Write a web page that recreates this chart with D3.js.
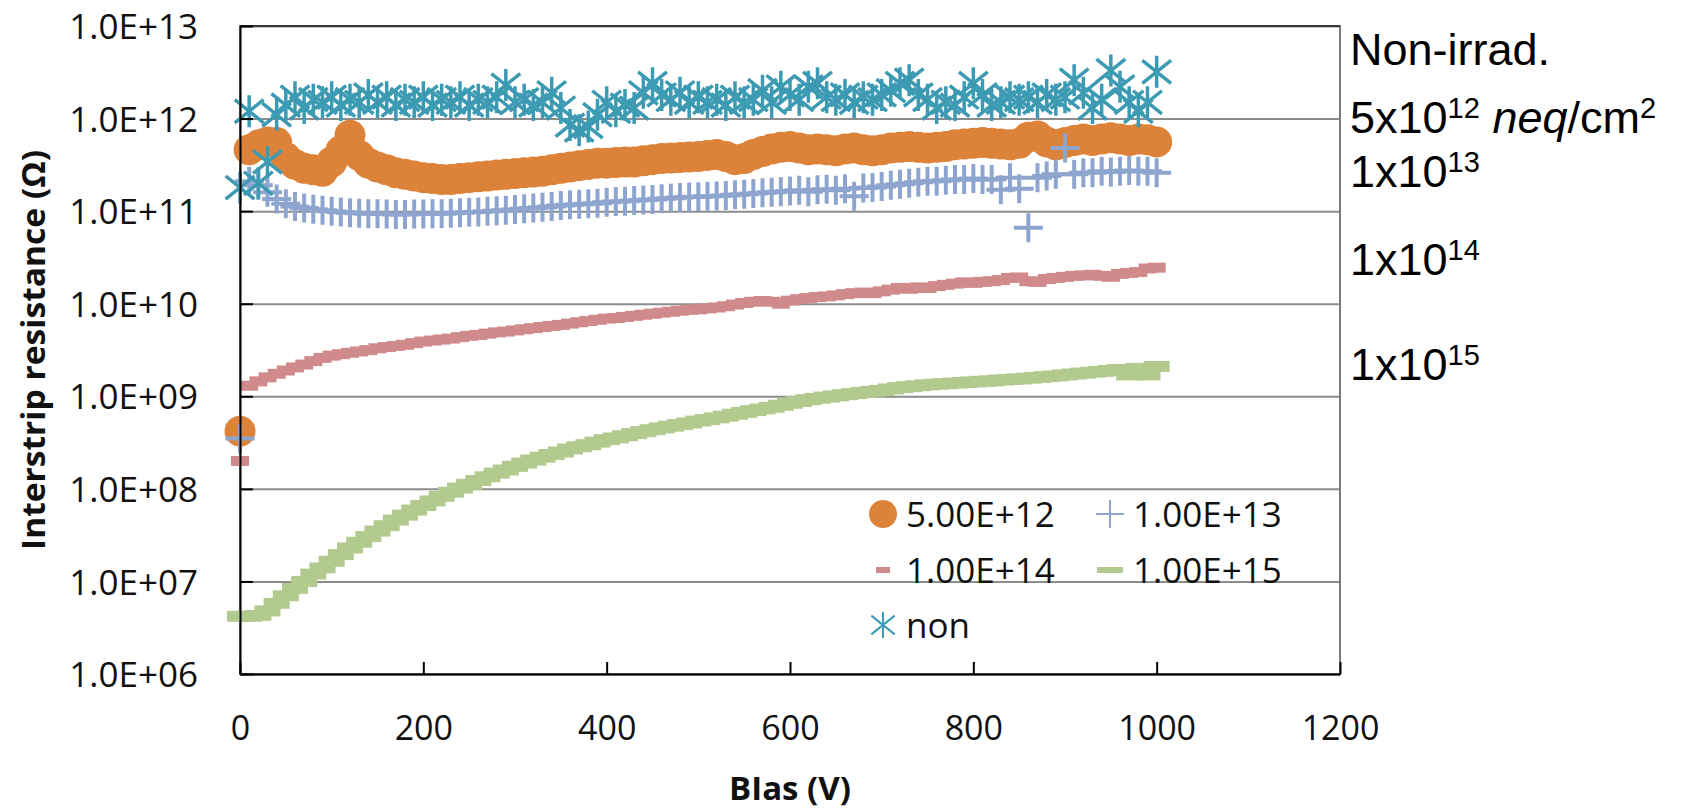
<!DOCTYPE html>
<html>
<head>
<meta charset="utf-8">
<script src="https://cdn.jsdelivr.net/npm/d3@7"></script>
<style>
  body { margin: 0; background: #fff; }
  svg { display: block; }
</style>
</head>
<body>
<svg id="chart" width="1691" height="811"></svg>
<script>
// Bias sweep (V)
const bias = [0,10,20,30,40,50,60,70,80,90,100,110,120,130,140,150,160,170,180,190,200,
  210,220,230,240,250,260,270,280,290,300,310,320,330,340,350,360,370,380,390,400,
  410,420,430,440,450,460,470,480,490,500,510,520,530,540,550,560,570,580,590,600,
  610,620,630,640,650,660,670,680,690,700,710,720,730,740,750,760,770,780,790,800,
  810,820,830,840,850,860,870,880,890,900,910,920,930,940,950,960,970,980,990,1000];

// Interstrip resistance (Ohm) per fluence
const r5e12 = [4.2e8,4.6e11,5.2e11,5.6e11,5.5e11,3.8e11,3.2e11,2.9e11,2.8e11,2.7e11,3.4e11,
  4.5e11,6.6e11,4.0e11,3.3e11,3.0e11,2.8e11,2.6e11,2.5e11,2.4e11,2.3e11,
  2.25e11,2.2e11,2.2e11,2.25e11,2.3e11,2.35e11,2.4e11,2.45e11,2.5e11,2.55e11,
  2.6e11,2.65e11,2.7e11,2.8e11,2.9e11,3.0e11,3.1e11,3.2e11,3.3e11,3.3e11,
  3.35e11,3.4e11,3.4e11,3.5e11,3.6e11,3.7e11,3.75e11,3.8e11,3.85e11,3.9e11,
  4.0e11,4.1e11,3.9e11,3.6e11,3.7e11,4.1e11,4.4e11,4.7e11,4.9e11,5.0e11,
  4.8e11,4.6e11,4.7e11,4.6e11,4.5e11,4.7e11,4.8e11,4.6e11,4.5e11,4.6e11,
  4.8e11,4.9e11,5.0e11,4.9e11,4.8e11,4.9e11,5.0e11,5.2e11,5.3e11,5.4e11,
  5.5e11,5.4e11,5.3e11,5.2e11,5.4e11,6.3e11,6.5e11,5.6e11,5.2e11,5.5e11,
  5.8e11,6.0e11,5.8e11,6.0e11,6.2e11,6.0e11,5.8e11,6.0e11,5.9e11,5.6e11];

const r1e13 = [3.5e8,2.1e11,1.9e11,1.6e11,1.35e11,1.2e11,1.12e11,1.08e11,1.05e11,1.02e11,1.0e11,
  0.98e11,0.96e11,0.95e11,0.94e11,0.94e11,0.93e11,0.92e11,0.92e11,0.93e11,0.93e11,
  0.94e11,0.94e11,0.95e11,0.96e11,0.97e11,0.98e11,1.0e11,1.01e11,1.02e11,1.04e11,
  1.06e11,1.08e11,1.1e11,1.12e11,1.15e11,1.17e11,1.19e11,1.2e11,1.22e11,1.25e11,
  1.27e11,1.28e11,1.3e11,1.32e11,1.34e11,1.36e11,1.38e11,1.4e11,1.42e11,1.43e11,
  1.45e11,1.46e11,1.48e11,1.5e11,1.52e11,1.55e11,1.58e11,1.6e11,1.62e11,1.65e11,
  1.68e11,1.62e11,1.7e11,1.72e11,1.68e11,1.75e11,1.45e11,1.78e11,1.8e11,1.85e11,
  1.9e11,1.95e11,2.0e11,2.05e11,2.1e11,2.1e11,2.15e11,2.2e11,2.2e11,2.25e11,
  2.2e11,2.2e11,1.7e11,2.3e11,1.75e11,6.6e10,2.3e11,2.4e11,2.5e11,4.8e11,
  2.5e11,2.6e11,2.6e11,2.7e11,2.65e11,2.7e11,2.75e11,2.7e11,2.7e11,2.6e11];

const r1e14 = [2.0e8,1.3e9,1.45e9,1.6e9,1.75e9,1.9e9,2.05e9,2.2e9,2.4e9,2.6e9,2.75e9,
  2.85e9,2.95e9,3.05e9,3.15e9,3.3e9,3.4e9,3.5e9,3.6e9,3.75e9,3.9e9,
  4.0e9,4.1e9,4.2e9,4.35e9,4.5e9,4.6e9,4.75e9,4.9e9,5.0e9,5.15e9,
  5.3e9,5.45e9,5.6e9,5.75e9,5.9e9,6.1e9,6.3e9,6.5e9,6.7e9,6.9e9,
  7.0e9,7.2e9,7.4e9,7.6e9,7.8e9,8.0e9,8.2e9,8.4e9,8.6e9,8.7e9,
  8.9e9,9.1e9,9.4e9,9.8e9,1.02e10,1.05e10,1.07e10,1.05e10,1.0e10,1.08e10,
  1.12e10,1.15e10,1.18e10,1.2e10,1.23e10,1.27e10,1.3e10,1.32e10,1.3e10,1.36e10,
  1.42e10,1.48e10,1.45e10,1.5e10,1.48e10,1.55e10,1.6e10,1.65e10,1.7e10,1.68e10,
  1.72e10,1.75e10,1.8e10,1.9e10,1.92e10,1.75e10,1.72e10,1.85e10,1.9e10,1.95e10,
  2.0e10,2.02e10,2.05e10,2.0e10,1.95e10,2.1e10,2.15e10,2.2e10,2.4e10,2.45e10];

const r1e15 = [4.2e6,4.2e6,4.3e6,4.8e6,5.8e6,7.0e6,8.4e6,1.0e7,1.2e7,1.4e7,1.65e7,
  1.95e7,2.3e7,2.65e7,3.05e7,3.5e7,4.0e7,4.6e7,5.2e7,5.9e7,6.6e7,
  7.4e7,8.3e7,9.2e7,1.02e8,1.12e8,1.23e8,1.35e8,1.48e8,1.6e8,1.75e8,
  1.9e8,2.05e8,2.2e8,2.35e8,2.5e8,2.7e8,2.85e8,3.0e8,3.2e8,3.4e8,
  3.55e8,3.75e8,3.95e8,4.15e8,4.35e8,4.55e8,4.75e8,4.95e8,5.15e8,5.4e8,
  5.6e8,5.85e8,6.1e8,6.4e8,6.7e8,7.0e8,7.3e8,7.6e8,8.0e8,8.4e8,
  8.8e8,9.2e8,9.5e8,9.8e8,1.01e9,1.04e9,1.07e9,1.1e9,1.13e9,1.16e9,
  1.2e9,1.24e9,1.27e9,1.3e9,1.33e9,1.35e9,1.37e9,1.39e9,1.41e9,1.43e9,
  1.45e9,1.47e9,1.5e9,1.52e9,1.54e9,1.57e9,1.6e9,1.63e9,1.66e9,1.7e9,
  1.74e9,1.78e9,1.82e9,1.86e9,1.9e9,1.95e9,1.7e9,2.0e9,1.7e9,2.1e9];

const rNon = [1.8e11,1.2e12,2.0e11,3.4e11,1.1e12,1.4e12,1.7e12,1.3e12,1.6e12,1.5e12,1.7e12,
  1.4e12,1.6e12,1.5e12,1.8e12,1.5e12,1.7e12,1.4e12,1.6e12,1.5e12,1.7e12,
  1.4e12,1.6e12,1.5e12,1.7e12,1.4e12,1.6e12,1.5e12,1.7e12,2.3e12,1.5e12,
  1.6e12,1.4e12,1.5e12,1.9e12,1.3e12,8.5e11,7.5e11,8.2e11,1.1e12,1.5e12,
  1.2e12,1.4e12,1.3e12,1.9e12,2.4e12,1.8e12,1.6e12,1.9e12,1.5e12,1.7e12,
  1.5e12,1.6e12,1.4e12,1.7e12,1.5e12,1.6e12,2.0e12,1.5e12,2.2e12,1.8e12,
  1.6e12,2.2e12,2.4e12,1.7e12,1.6e12,1.8e12,1.5e12,1.7e12,1.6e12,1.8e12,
  2.0e12,2.4e12,2.6e12,1.8e12,1.6e12,1.3e12,1.5e12,1.4e12,1.7e12,2.4e12,
  1.8e12,1.4e12,1.5e12,1.7e12,1.6e12,1.7e12,1.5e12,1.8e12,1.6e12,1.7e12,
  2.6e12,1.9e12,1.3e12,1.6e12,3.3e12,2.2e12,1.5e12,1.2e12,1.5e12,3.2e12];

// Axis ticks and labels
const yTicks = [1e6,1e7,1e8,1e9,1e10,1e11,1e12,1e13];
const yTickLabels = ["1.0E+06","1.0E+07","1.0E+08","1.0E+09","1.0E+10","1.0E+11","1.0E+12","1.0E+13"];
const xTicks = [0,200,400,600,800,1000,1200];
const seriesNames = ["5.00E+12","1.00E+13","1.00E+14","1.00E+15","non"];

const svg = d3.select("#chart");
const plotL = 240, plotR = 1340, plotT = 26, plotB = 674;

const x = d3.scaleLinear().domain([0, 1200]).range([plotL, plotR]);
const y = d3.scaleLog().domain([1e6, 1e13]).range([plotB, plotT]);

const font = "'Open Sans', 'DejaVu Sans', sans-serif";

// horizontal gridlines
svg.append("g")
  .attr("transform", `translate(${plotL},0)`)
  .call(d3.axisLeft(y).tickValues(yTicks).tickSize(-(plotR - plotL)).tickFormat(""))
  .call(g => g.select(".domain").remove())
  .call(g => g.selectAll("line").attr("stroke", "#8c8c8c").attr("stroke-width", 2));

// plot frame: grey right edge, dark top edge
svg.append("rect")
  .attr("x", plotL).attr("y", plotT)
  .attr("width", plotR - plotL).attr("height", plotB - plotT)
  .attr("fill", "none").attr("stroke", "#7a7a7a").attr("stroke-width", 2);
svg.append("line")
  .attr("x1", plotL).attr("x2", plotR).attr("y1", plotT).attr("y2", plotT)
  .attr("stroke", "#3a3a3a").attr("stroke-width", 2);

// marker painters
const markers = {
  circle: (g, c, s) => g.append("circle").attr("r", s).attr("fill", c),
  plus: (g, c, s, w) => g.append("path")
    .attr("d", `M${-s},0H${s}M0,${-s}V${s}`)
    .attr("stroke", c).attr("stroke-width", w).attr("fill", "none"),
  dash: (g, c, s, w, h) => g.append("rect")
    .attr("x", -s).attr("y", -h / 2).attr("width", 2 * s).attr("height", h).attr("fill", c),
  star: (g, c, s, w) => g.append("path")
    .attr("d", `M0,${-s}V${s}M${-s * 0.9},${-s * 0.72}L${s * 0.9},${s * 0.72}M${-s * 0.9},${s * 0.72}L${s * 0.9},${-s * 0.72}`)
    .attr("stroke", c).attr("stroke-width", w).attr("fill", "none")
};

const series = [
  { name: seriesNames[0], values: r5e12, shape: "circle", color: "#DC8239", size: 15.5, lsize: 14, w: 0, lw: 0, h: 0, lh: 0 },
  { name: seriesNames[1], values: r1e13, shape: "plus", color: "#8EA6CF", size: 14.5, lsize: 14, w: 4, lw: 2, h: 0, lh: 0 },
  { name: seriesNames[2], values: r1e14, shape: "dash", color: "#D08A8B", size: 9, lsize: 7, w: 0, lw: 0, h: 10, lh: 6 },
  { name: seriesNames[3], values: r1e15, shape: "dash", color: "#B2CA8D", size: 13, lsize: 13, w: 0, lw: 0, h: 11, lh: 6 },
  { name: seriesNames[4], values: rNon, shape: "star", color: "#3D9AB3", size: 16, lsize: 13, w: 3.5, lw: 2, h: 0, lh: 0 }
];

// data markers
series.forEach(s => {
  const g = svg.append("g");
  s.values.forEach((v, i) => {
    const m = g.append("g").attr("transform", `translate(${x(bias[i])},${y(v)})`);
    markers[s.shape](m, s.color, s.size, s.w, s.h);
  });
});

// axes
const yAxis = svg.append("g")
  .attr("transform", `translate(${plotL},0)`)
  .call(d3.axisLeft(y).tickValues(yTicks).tickSizeInner(-13).tickSizeOuter(0)
    .tickPadding(42).tickFormat((d, i) => yTickLabels[i]));
yAxis.select(".domain").attr("stroke", "#000").attr("stroke-width", 2);
yAxis.selectAll("line").attr("stroke", "#000").attr("stroke-width", 2);
yAxis.selectAll("text").attr("font-family", font).attr("font-size", 35)
  .attr("fill", "#111").attr("dy", "0.36em");

const xAxis = svg.append("g")
  .attr("transform", `translate(0,${plotB})`)
  .call(d3.axisBottom(x).tickValues(xTicks).tickSizeInner(-12).tickSizeOuter(0).tickFormat(d3.format("d")));
xAxis.select(".domain").attr("stroke", "#000").attr("stroke-width", 2);
xAxis.selectAll("line").attr("stroke", "#000").attr("stroke-width", 2);
xAxis.selectAll("text").attr("font-family", font).attr("font-size", 34)
  .attr("fill", "#111").attr("y", 66).attr("dy", 0);

// axis titles
svg.append("text")
  .attr("transform", `translate(${(plotL + plotR) / 2},800)`)
  .attr("text-anchor", "middle")
  .attr("font-family", font).attr("font-weight", "bold").attr("font-size", 33)
  .attr("fill", "#111")
  .text("BIas (V)");

svg.append("text")
  .attr("transform", `translate(45,${(plotT + plotB) / 2}) rotate(-90)`)
  .attr("text-anchor", "middle")
  .attr("font-family", font).attr("font-weight", "bold").attr("font-size", 32)
  .attr("textLength", 400).attr("lengthAdjust", "spacingAndGlyphs")
  .attr("fill", "#111")
  .text("Interstrip resistance (\u03A9)");

// legend
const legCols = [883, 1110], legRows = [514, 570, 625];
series.forEach((s, i) => {
  const cx = legCols[i % 2], cy = legRows[Math.floor(i / 2)];
  const m = svg.append("g").attr("transform", `translate(${cx},${cy})`);
  markers[s.shape](m, s.color, s.lsize, s.lw, s.lh);
  svg.append("text")
    .attr("x", cx + 23).attr("y", cy).attr("dy", "0.36em")
    .attr("font-family", font).attr("font-size", 35).attr("fill", "#111")
    .text(s.name);
});

// fluence annotations on the right
const arial = "'Liberation Sans', Arial, sans-serif";
const notes = [
  { y: 65, parts: [["Non-irrad.", "n"]] },
  { y: 133, parts: [["5x10", "n"], ["12", "s"], [" ", "n"], ["neq", "i"], ["/cm", "n"], ["2", "s"]] },
  { y: 187, parts: [["1x10", "n"], ["13", "s"]] },
  { y: 275, parts: [["1x10", "n"], ["14", "s"]] },
  { y: 380, parts: [["1x10", "n"], ["15", "s"]] }
];
notes.forEach(n => {
  const t = svg.append("text").attr("x", 1350).attr("y", n.y)
    .attr("font-family", arial).attr("font-size", 45).attr("fill", "#000");
  let raised = false;
  n.parts.forEach(([txt, kind]) => {
    const sp = t.append("tspan").text(txt);
    if (kind === "s") {
      sp.attr("font-size", 29).attr("dy", raised ? 0 : -15);
      raised = true;
    } else {
      if (raised) { sp.attr("dy", 15); raised = false; }
      if (kind === "i") sp.attr("font-style", "italic");
    }
  });
});
</script>
</body>
</html>
